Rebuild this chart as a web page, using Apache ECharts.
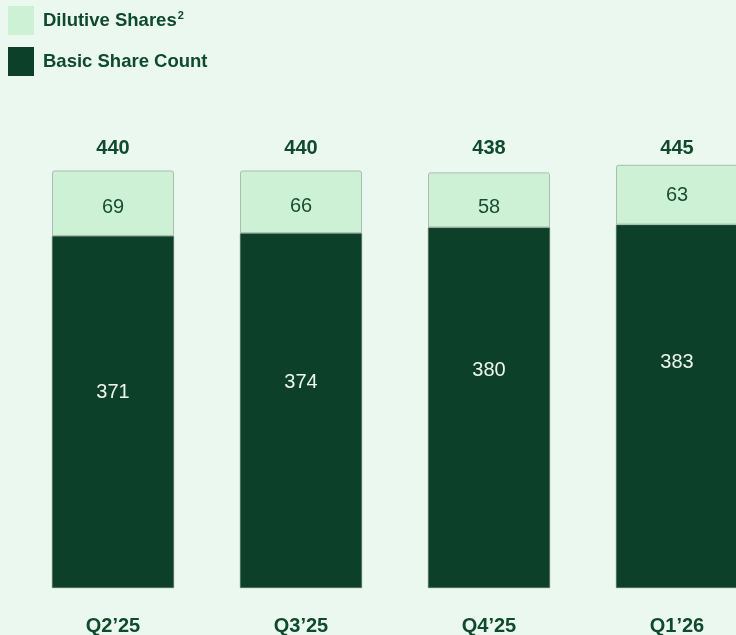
<!DOCTYPE html>
<html>
<head>
<meta charset="utf-8">
<script src="https://cdn.jsdelivr.net/npm/echarts@6/dist/echarts.min.js"></script>
<style>
  html, body { margin: 0; padding: 0; background: #ebf8ef; }
  #chart { width: 736px; height: 635px; }
</style>
</head>
<body>
<div id="chart"></div>
<script>
// Share count by quarter (millions)
const quarters = ['Q2\u201925', 'Q3\u201925', 'Q4\u201925', 'Q1\u201926'];
const basicShares = [371, 374, 380, 383];
const dilutiveShares = [69, 66, 58, 63];
const totalShares = [440, 440, 438, 445];

// vertical nudges for the in-bar labels
const basicLabelShift = [-19, -28, -37, -44];
const dilutiveLabelShift = [4, 5, 8, 1];

const DARK = '#0d4029';
const LIGHT = '#cdf1d4';
const TEXT = '#0f4a2c';
const FONT = '"Liberation Sans", Arial, Helvetica, sans-serif';

const chart = echarts.init(document.getElementById('chart'));

chart.setOption({
  backgroundColor: '#ebf8ef',
  animation: false,
  textStyle: { fontFamily: FONT },
  legend: {
    orient: 'vertical',
    left: 3,
    top: 1,
    itemWidth: 26,
    itemHeight: 29,
    itemGap: 12,
    selectedMode: false,
    data: [
      { name: 'Dilutive Shares', icon: 'rect', itemStyle: { borderWidth: 0 } },
      { name: 'Basic Share Count', icon: 'rect', itemStyle: { borderWidth: 0 } }
    ],
    formatter: function (name) {
      return name === 'Dilutive Shares' ? '{b|Dilutive Shares}{sup|2}' : '{b|' + name + '}';
    },
    textStyle: {
      padding: [0, 0, 0, 4],
      rich: {
        b: { fontFamily: FONT, fontSize: 18.5, fontWeight: 'bold', color: TEXT },
        sup: { fontFamily: FONT, fontSize: 11, fontWeight: 'bold', color: TEXT, verticalAlign: 'top', padding: [0, 0, 9, 1] }
      }
    }
  },
  grid: { left: 19, right: -35, top: 161, bottom: 47, outerBoundsMode: 'none', containLabel: false },
  xAxis: [
    {
      type: 'category',
      data: quarters,
      position: 'bottom',
      axisLine: { show: false },
      axisTick: { show: false },
      axisLabel: { margin: 28, fontSize: 20, fontWeight: 'bold', color: TEXT, fontFamily: FONT }
    },
    {
      type: 'category',
      data: totalShares.map(String),
      position: 'top',
      axisLine: { show: false },
      axisTick: { show: false },
      axisLabel: { margin: 3, fontSize: 20, fontWeight: 'bold', color: TEXT, fontFamily: FONT }
    }
  ],
  yAxis: {
    type: 'value',
    min: 0,
    max: 450,
    show: false,
    splitLine: { show: false }
  },
  series: [
    {
      name: 'Basic Share Count',
      type: 'bar',
      stack: 'shares',
      barWidth: 122,
      itemStyle: { color: DARK, borderColor: '#51705f', borderWidth: 0.6 },
      data: basicShares.map((v, i) => ({
        value: v,
        label: { offset: [0, basicLabelShift[i]] }
      })),
      label: {
        show: true,
        position: 'inside',
        fontSize: 20,
        color: '#eef5f0',
        fontFamily: FONT
      }
    },
    {
      name: 'Dilutive Shares',
      type: 'bar',
      stack: 'shares',
      barWidth: 122,
      itemStyle: { color: LIGHT, borderColor: '#a9bcaf', borderWidth: 1, borderRadius: [2, 2, 0, 0] },
      data: dilutiveShares.map((v, i) => ({
        value: v,
        label: { offset: [0, dilutiveLabelShift[i]] }
      })),
      label: {
        show: true,
        position: 'inside',
        fontSize: 20,
        color: '#1a4d33',
        fontFamily: FONT
      }
    }
  ]
});
</script>
</body>
</html>
